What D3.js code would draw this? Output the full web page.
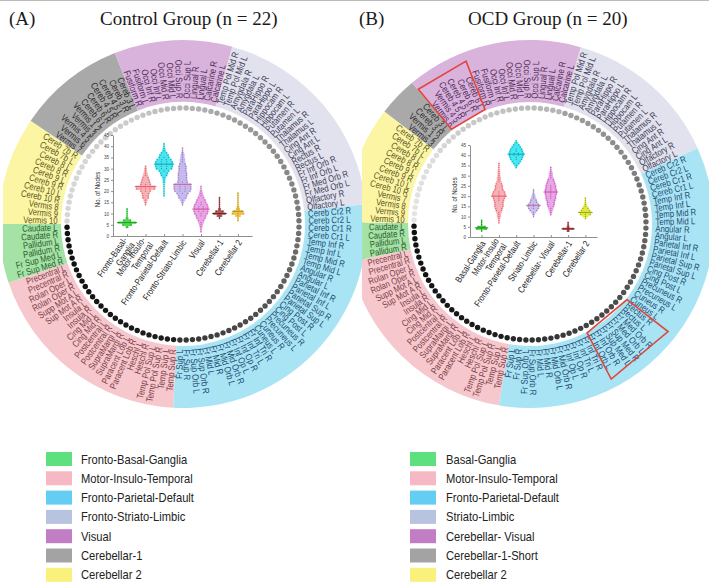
<!DOCTYPE html>
<html>
<head>
<meta charset="utf-8">
<script src="https://cdn.jsdelivr.net/npm/d3@7"></script>
<style>
  body { margin: 0; background: #fff; }
  svg { display: block; font-family: "Liberation Sans", Arial, sans-serif; }
</style>
</head>
<body>
<svg width="709" height="584"></svg>
<script>
// module order everywhere: 0 basal, 1 motor, 2 fronto-parietal, 3 limbic, 4 visual, 5 cerebellar-1, 6 cerebellar 2
const ctrlModules = ["Fronto-Basal-Ganglia", "Motor-Insulo-Temporal", "Fronto-Parietal-Default", "Fronto-Striato-Limbic", "Visual", "Cerebellar-1", "Cerebellar 2"];
const ocdModules = ["Basal-Ganglia", "Motor-Insulo-Temporal", "Fronto-Parietal-Default", "Striato-Limbic", "Cerebellar- Visual", "Cerebellar-1-Short", "Cerebellar 2"];
const ctrlTickLabels = [["Fronto-Basal-", "Ganglia"], ["Motor-Insulo-", "Temporal"], ["Fronto-Parietal-Default"], ["Fronto-Striato-Limbic"], ["Visual"], ["Cerebellar-1"], ["Cerebellar 2"]];
const ocdTickLabels = [["Basal-Ganglia"], ["Motor-Insulo", "Temporal"], ["Fronto-Parietal-Default"], ["Striato-Limbic"], ["Cerebellar- Visual"], ["Cerebellar-1"], ["Cerebellar 2"]];
const yTicks = [0, 5, 10, 15, 20, 25, 30, 35, 40, 45];

// violin data: [number of nodes, frequency]
const ctrlDist = [
  [[4,2],[5,7],[6,13],[7,6],[8,2],[9,1],[10,1],[11,1],[12,1]],
  [[14,1],[15,2],[16,3],[17,5],[18,5],[19,6],[20,8],[21,14],[22,14],[23,8],[24,7],[25,6],[26,5],[27,4],[28,3],[29,2],[30,2],[31,1]],
  [[18,1],[19,1],[20,1],[21,1],[22,1],[23,1],[24,2],[25,2],[26,3],[27,5],[28,6],[29,8],[30,12],[31,13],[32,13],[33,13],[34,11],[35,8],[36,7],[37,5],[38,3],[39,2],[40,1],[41,1]],
  [[14,1],[15,2],[16,4],[17,6],[18,7],[19,9],[20,12],[21,13],[22,13],[23,12],[24,8],[25,7],[26,7],[27,7],[28,7],[29,6],[30,6],[31,6],[32,5],[33,4],[34,4],[35,3],[36,3],[37,2],[38,1],[39,1]],
  [[2,1],[3,1],[4,2],[5,3],[6,4],[7,5],[8,7],[9,8],[10,10],[11,11],[12,11],[13,11],[14,10],[15,8],[16,7],[17,5],[18,4],[19,3],[20,2],[21,1],[22,1]],
  [[8,1],[9,4],[10,9],[11,6],[12,2],[13,1],[14,1],[15,1],[16,1],[17,1]],
  [[7,1],[8,1],[9,4],[10,9],[11,7],[12,3],[13,2],[14,1],[15,1],[16,1],[17,1],[18,1],[19,1]]
];
const ocdDist = [
  [[3,1],[4,8],[5,6],[6,1],[7,1],[8,1]],
  [[7,1],[8,1],[9,2],[10,3],[11,3],[12,4],[13,5],[14,6],[15,7],[16,7],[17,7],[18,8],[19,9],[20,10],[21,10],[22,9],[23,7],[24,6],[25,6],[26,5],[27,4],[28,3],[29,3],[30,2],[31,2],[32,2],[33,1],[34,1],[35,1],[36,1]],
  [[34,1],[35,3],[36,5],[37,7],[38,9],[39,10],[40,11],[41,11],[42,10],[43,9],[44,7],[45,5],[46,3],[47,1]],
  [[10,1],[11,2],[12,4],[13,6],[14,8],[15,9],[16,8],[17,6],[18,5],[19,4],[20,3],[21,2],[22,1],[23,1]],
  [[11,1],[12,2],[13,3],[14,4],[15,5],[16,6],[17,6],[18,7],[19,8],[20,8],[21,9],[22,9],[23,9],[24,8],[25,8],[26,7],[27,6],[28,5],[29,4],[30,3],[31,3],[32,2],[33,1],[34,1]],
  [[3,2],[4,8],[5,2],[6,1],[7,1]],
  [[9,1],[10,4],[11,8],[12,9],[13,7],[14,5],[15,3],[16,2],[17,1],[18,1],[19,1]]
];

// ring labels, clockwise from the top
const ctrlLimbic = ["Temp Pol Mid R","Temp Pol Mid L","Amygdala R","Amygdala L","ParaHippo R","ParaHippo L","Hippocam R","Hippocam L","Putamen R","Putamen L","Thalamus R","Thalamus L","Cing Ant R","Cing Ant L","Rectus R","Rectus L","Fr Inf Orb R","Fr Inf Orb L","Fr Med Orb R","Fr Med Orb L","Olfactory R","Olfactory L"];
const ctrlFPD = ["Cereb Cr2 R","Cereb Cr2 L","Cereb Cr1 R","Cereb Cr1 L","Temp Inf R","Temp Inf L","Temp Mid R","Temp Mid L","Angular R","Angular L","Parietal Inf R","Parietal Inf L","Parietal Sup R","Parietal Sup L","Cing Post R","Cing Post L","Precuneus R","Precuneus L","Cuneus R","Cuneus L","Fr Inf Tri R","Fr Inf Tri L","Fr Inf Op R","Fr Inf Op L","Fr Mid Orb R","Fr Mid Orb L","Fr Mid R","Fr Mid L","Fr Sup Orb R","Fr Sup Orb L","Fr Sup R","Fr Sup L"];
const ctrlMotor = ["Temp Sup R","Temp Sup L","Temp Pol Sup R","Temp Pol Sup L","Heschl R","Heschl L","Paracent Lob R","Paracent Lob L","SupraMargi R","SupraMargi L","Postcentral R","Postcentral L","Cing Mid R","Cing Mid L","Insula R","Insula L","Sup Mot A R","Supp Mot A L","Rolan Oper R","Rolan Oper L","Precentral R","Precentral L"];
const ctrlBasal = ["Fr Sup Med R","Fr Sup Med L","Pallidum R","Pallidum L","Caudate R","Caudate L"];
const ctrlCereb2 = ["Vermis 10","Vermis 9","Vermis 8","Cereb 10 R","Cereb 10 L","Cereb 9 R","Cereb 9 L","Cereb 8 R","Cereb 8 L","Cereb 7b L","Cereb 7b R"];
const ctrlCereb1 = ["Vermis 7","Vermis 6","Vermis 4 5","Vermis 3","Vermis 1 2","Cereb 6 L","Cereb 6 R","Cereb 4 5 R","Cereb 4 5 L","Cereb 3 R","Cereb 3 L"];
const ctrlVisual = ["Fusiform R","Fusiform L","Occi Inf R","Occi Inf L","Occi Mid R","Occi Mid L","Occi Sup R","Occi Sup L","Lingual R","Lingual L","Calcarine R","Calcarine L"];

const ocdLimbic = ["Temp Pol Mid R","Temp Pol Mid L","Amygdala R","Amygdala L","ParaHippo R","ParaHippo L","Hippocam R","Hippocam L","Putamen R","Putamen L","Thalamus R","Thalamus L","Cing Ant R","Cing Ant L","Olfactory R","Olfactory L"];
const ocdFPD = ["Cereb Cr2 R","Cereb Cr2 L","Cereb Cr1 R","Cereb Cr1 L","Temp Inf R","Temp Inf L","Temp Mid R","Temp Mid L","Angular R","Angular L","Parietal Inf R","Parietal Inf L","Parietal Sup R","Parietal Sup L","Cing Post R","Cing Post L","Precuneus R","Precuneus L","Cuneus R","Cuneus L","Rectus R","Rectus L","Fr Med Orb R","Fr Med Orb L","Fr Sup Med R","Fr Sup Med L","Fr Inf Orb R","Fr Inf Orb L","Fr Inf Tri R","Fr Inf Tri L","Fr Inf Op R","Fr Inf Op L","Fr Mid Orb R","Fr Mid Orb L","Fr Mid R","Fr Mid L","Fr Sup Orb R","Fr Sup Orb L","Fr Sup R","Fr Sup L"];
const ocdMotor = ctrlMotor.slice();
const ocdBasal = ["Pallidum R","Pallidum L","Caudate R","Caudate L"];
const ocdCereb2 = ["Vermis 10","Vermis 9","Vermis 8","Vermis 7","Cereb 10 R","Cereb 10 L","Cereb 9 R","Cereb 9 L","Cereb 8 R","Cereb 8 L","Cereb 7b L","Cereb 7b R"];
const ocdCereb1 = ["Vermis 3","Vermis 1 2","Cereb 3 R","Cereb 3 L"];
const ocdVisual = ["Vermis 6","Vermis 4 5","Cereb 4 5 R","Cereb 4 5 L","Cereb 6 R","Cereb 6 L","Fusiform R","Fusiform L","Occi Inf R","Occi Inf L","Occi Mid R","Occi Mid L","Occi Sup R","Occi Sup L","Lingual R","Lingual L","Calcarine R","Calcarine L"];

// which module each ring sector belongs to, in ring order
const ringOrder = [3, 2, 1, 0, 6, 5, 4];
const ctrlRing = [ctrlLimbic, ctrlFPD, ctrlMotor, ctrlBasal, ctrlCereb2, ctrlCereb1, ctrlVisual];
const ocdRing = [ocdLimbic, ocdFPD, ocdMotor, ocdBasal, ocdCereb2, ocdCereb1, ocdVisual];
// labels that moved module in the OCD group (outlined in red): [ring sector, first, last]
const ocdMoved = [[6, 0, 5], [1, 20, 27]];

// colours
const bandColors = ["#a4e2a6", "#f6c7cc", "#a9e4f5", "#e2e2ee", "#dab3dd", "#a9a9a9", "#fbf5a4"];
const legendColors = ["#5fe07e", "#f5b8c4", "#64cdf2", "#b8c3e0", "#c37dc5", "#a3a3a3", "#f9f17c"];
const labelColors = ["#2c5c2c", "#7d4048", "#1e4b72", "#3c3c55", "#4d2c57", "#2b2b2b", "#5c5622"];
const ctrlDotTones = [["#a4a4a4","#7c7c7c"],["#767676","#333333"],["#1e1e1e","#111111"],["#111111","#111111"],["#d6d6d6","#d6d6d6"],["#d0d0d0","#cacaca"],["#c4c4c4","#acacac"]];
const ocdDotTones = [["#a0a0a0","#808080"],["#747474","#2a2a2a"],["#1e1e1e","#111111"],["#111111","#111111"],["#e4e4e4","#dcdcdc"],["#d6d6d6","#d2d2d2"],["#cccccc","#b4b4b4"]];
const ctrlViolin = ["#3fd13f", "#f5a8ae", "#35e3ef", "#b9b5f2", "#e39be3", "#a34848", "#e9bc3a"];
const ctrlDots = ["#1f9a1f", "#e2505c", "#159aa8", "#d45a8a", "#d04a9a", "#6a1f1f", "#b58a10"];
const ocdViolin = ["#34c634", "#f6aab1", "#30e6f2", "#bcbcf2", "#e39ce6", "#b03a3a", "#d9e82c"];
const ocdDots = ["#1a8a1a", "#e2505c", "#149aa8", "#c2608a", "#c94aa0", "#6a1f1f", "#98a010"];

const svg = d3.select("svg");
const rad = d => d * Math.PI / 180;
const R_OUT = 184, R_IN = 122, R_DOT = 116, R_LAB = 125.5;
const NARROW = 0.82;

svg.append("line").attr("x1", 0).attr("x2", 709).attr("y1", 0.5).attr("y2", 0.5)
  .attr("stroke", "#bbb").attr("stroke-width", 1);

const defs = svg.append("defs");
defs.append("clipPath").attr("id", "clipA").append("rect").attr("x", 3).attr("y", 0).attr("width", 362).attr("height", 584);
defs.append("clipPath").attr("id", "clipB").append("rect").attr("x", 362).attr("y", 0).attr("width", 347).attr("height", 584);

function polar(r, a) {
  return [r * Math.sin(rad(a)), -r * Math.cos(rad(a))];
}

function drawRing(cx, cy, ring, tones, startDeg, clipId, moved) {
  const g = svg.append("g").attr("clip-path", `url(#${clipId})`)
    .append("g").attr("transform", `translate(${cx},${cy})`);
  const total = d3.sum(ring, l => l.length);
  const step = 360 / total;
  const starts = [];
  let k = 0;
  ring.forEach((list, s) => {
    const a0 = startDeg + k * step;
    starts.push(a0);
    g.append("path")
      .attr("d", d3.arc()({ innerRadius: R_IN, outerRadius: R_OUT, startAngle: rad(a0), endAngle: rad(a0 + list.length * step) }))
      .attr("fill", bandColors[ringOrder[s]]);
    k += list.length;
  });

  ring.forEach((list, s) => {
    const mod = ringOrder[s];
    const tone = d3.interpolateRgb(tones[s][0], tones[s][1]);
    list.forEach((lab, j) => {
      const ang = starts[s] + (j + 0.5) * step;
      const norm = ((ang % 360) + 360) % 360;
      const flip = norm > 180;
      const [dx, dy] = polar(R_DOT, ang);
      g.append("circle").attr("cx", dx).attr("cy", dy).attr("r", 2.7)
        .attr("fill", tone(list.length > 1 ? j / (list.length - 1) : 0));
      g.append("text")
        .attr("transform", `rotate(${ang - 90}) translate(${R_LAB},0)` + (flip ? " rotate(180)" : "") + ` scale(${NARROW},1)`)
        .attr("text-anchor", flip ? "end" : "start")
        .attr("dy", "0.35em")
        .attr("font-size", 9.4)
        .attr("fill", labelColors[mod])
        .text(lab);
    });
  });

  (moved || []).forEach(([s, i0, i1]) => {
    const a0 = starts[s] + i0 * step + 0.2, a1 = starts[s] + (i1 + 1) * step - 0.2;
    const pts = [polar(R_IN + 1, a0), polar(R_OUT - 9, a0), polar(R_OUT - 9, a1), polar(R_IN + 1, a1)];
    g.append("path").attr("d", "M" + pts.map(p => p.join(",")).join("L") + "Z")
      .attr("fill", "none").attr("stroke", "#e0463c").attr("stroke-width", 1.6);
  });
}

function drawViolins(dist, tickLabels, fills, dots, cfg) {
  const y = d3.scaleLinear().domain([0, 45]).range([cfg.y0, cfg.y45]);
  const x = d3.scalePoint().domain(d3.range(7)).range([cfg.ax, cfg.axEnd]).padding(cfg.pad);
  const w = c => c * 0.7;
  const g = svg.append("g");

  const yAxis = g.append("g").attr("transform", `translate(${cfg.ax},0)`)
    .call(d3.axisLeft(y).tickValues(yTicks).tickSize(2).tickSizeOuter(0).tickPadding(2));
  yAxis.selectAll("text").attr("font-size", 4.6).attr("fill", "#444");
  yAxis.selectAll("line,path").attr("stroke", "#444").attr("stroke-width", 0.6);

  const xAxis = g.append("g").attr("transform", `translate(0,${cfg.y0})`)
    .call(d3.axisBottom(x).tickSize(-2).tickSizeOuter(0).tickFormat(""));
  xAxis.selectAll("line,path").attr("stroke", "#444").attr("stroke-width", 0.6);

  dist.forEach((d, i) => {
    const xc = x(i);
    const pts = [];
    d.forEach(([v, c]) => { pts.push([v - 0.5, c], [v + 0.5, c]); });
    const area = d3.area().curve(d3.curveLinear)
      .y(p => y(p[0])).x0(p => xc - w(p[1])).x1(p => xc + w(p[1]));
    g.append("path").attr("d", area(pts)).attr("fill", fills[i]).attr("fill-opacity", 0.9);

    // sparse beeswarm points: one point per three observations in a row
    d.forEach(([v, c]) => {
      const n = Math.max(1, Math.round(c / 3));
      const sp = n > 1 ? (2 * w(c) - 2) / (n - 1) : 0;
      for (let j = 0; j < n; j++) {
        g.append("circle").attr("cx", xc + (j - (n - 1) / 2) * sp).attr("cy", y(v))
          .attr("r", 0.65).attr("fill", dots[i]).attr("fill-opacity", 0.9);
      }
    });

    // median line
    const expanded = [];
    d.forEach(([v, c]) => { for (let j = 0; j < c; j++) expanded.push(v); });
    const med = d3.median(expanded);
    const cMed = d3.max(d, e => Math.abs(e[0] - med) < 0.6 ? e[1] : 0) || 1;
    g.append("line").attr("x1", xc - w(cMed) - 1).attr("x2", xc + w(cMed) + 1)
      .attr("y1", y(med)).attr("y2", y(med)).attr("stroke", dots[i]).attr("stroke-width", 0.9);

    const t = g.append("text")
      .attr("transform", `translate(${xc + 2},${cfg.y0 + 5}) rotate(${cfg.rot}) scale(${NARROW},1)`)
      .attr("text-anchor", "end").attr("font-size", 9.2).attr("fill", "#222");
    const lines = tickLabels[i];
    lines.forEach((line, li) => {
      t.append("tspan").attr("x", 0)
        .attr("dy", li === 0 ? (lines.length > 1 ? "-0.2em" : "0.3em") : "1.0em").text(line);
    });
  });

  g.append("text")
    .attr("transform", `translate(${cfg.ax - 13},${(cfg.y0 + cfg.y45) / 2 + 4}) rotate(-90) scale(${NARROW},1)`)
    .attr("text-anchor", "middle").attr("font-size", 7.4).attr("fill", "#333")
    .text("No. of Nodes");
}

function drawLegend(names, sx, tx) {
  names.forEach((name, i) => {
    const cy = 459 + i * 19.3;
    svg.append("rect").attr("x", sx).attr("y", cy - 7).attr("width", 26).attr("height", 14)
      .attr("fill", legendColors[i]);
    svg.append("text").attr("transform", `translate(${tx},${cy + 4.5}) scale(0.86,1)`)
      .attr("font-size", 13).attr("fill", "#222").text(name);
  });
}

function title(x, y, txt) {
  svg.append("text").attr("x", x).attr("y", y)
    .style("font-family", "'Liberation Serif', 'Times New Roman', serif")
    .attr("font-size", 19).attr("fill", "#1a1a1a").text(txt);
}

drawRing(183, 224, ctrlRing, ctrlDotTones, 15.5, "clipA");
drawRing(530, 224, ocdRing, ocdDotTones, 16, "clipB", ocdMoved);

drawViolins(ctrlDist, ctrlTickLabels, ctrlViolin, ctrlDots,
  { y0: 236, y45: 135, ax: 113, axEnd: 252, pad: 0.76, rot: -56 });
drawViolins(ocdDist, ocdTickLabels, ocdViolin, ocdDots,
  { y0: 237, y45: 145, ax: 470, axEnd: 597, pad: 0.67, rot: -57 });

drawLegend(ctrlModules, 46, 81);
drawLegend(ocdModules, 410, 446);

title(9, 25, "(A)");
title(100, 25, "Control Group (n = 22)");
title(359, 25, "(B)");
title(468, 25, "OCD Group (n = 20)");
</script>
</body>
</html>
